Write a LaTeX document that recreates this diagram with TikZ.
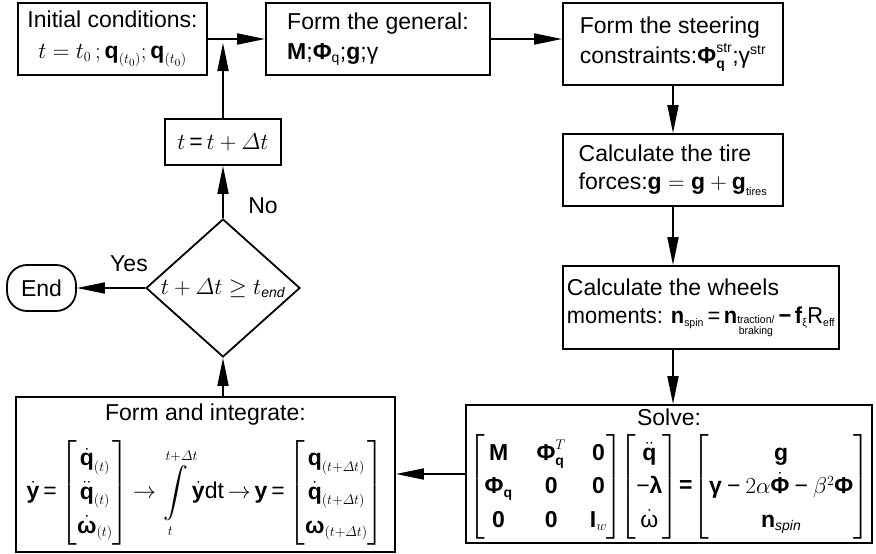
\RequirePackage{fix-cm}
\documentclass[tikz,border=0pt]{standalone}
\usepackage{amsmath}
\usepackage{fontspec}
\setmainfont{Liberation Sans}
\usetikzlibrary{arrows.meta,shapes.geometric}
\DeclareMathSizes{23}{23}{14}{11}
\newcommand\B[1]{\text{\bfseries #1}}
\newcommand\T[1]{\text{#1}}
\newcommand\Sm[1]{\text{\fontsize{11}{12}\selectfont #1}}
\newcommand\Mi{\mathbin{\T{−}}}
\begin{document}
\begin{tikzpicture}[x=1pt,y=-1pt,
  every node/.append style={font=\fontsize{23}{28}\selectfont, inner sep=2pt},
  box/.style={draw, line width=1.8pt, align=left},
  conn/.style={line width=1.8pt, -{Triangle[length=28pt,width=11pt]}}]
\useasboundingbox (0,0) rectangle (876,554);

\node[box, align=center, minimum width=189pt, minimum height=72pt] (init) at (112.5,39)
  {Initial conditions:\\[3pt] $t=t_0\,;\B{q}_{(t_0)};\B{q}_{(t_0)}$};
\node[box, minimum width=224pt, minimum height=72pt] (gen) at (378,39)
  {Form the general:\\[2pt] $\B{M}\T{;}\B{Φ}_{\T{q}}\T{;}\B{g}\T{;}\T{γ}$};
\node[box, minimum width=220pt, minimum height=82pt] (steer) at (673,44)
  {Form the steering\\[2pt] constraints:$\B{Φ}_{\B{q}}^{\T{str}}\T{;}\T{γ}^{\T{str}}$};
\node[box, minimum width=220pt, minimum height=72pt] (tire) at (673,170)
  {Calculate the tire\\ forces:$\B{g}=\B{g}+\B{g}_{\Sm{tires}}$};
\node[box, minimum width=276pt, minimum height=83pt] (wheel) at (701,307.5)
  {Calculate the wheels\\ \scalebox{0.95}[1]{moments: $\B{n}_{\Sm{spin}}\,\T{=}\,\B{n}_{\substack{\Sm{traction/}\\ \Sm{braking}}}\,\B{−}\,\B{f}_{\Sm{ξ}}\T{R}_{\Sm{eff}}$}};

\node[box, align=center, minimum width=404pt, minimum height=138pt] (solve) at (669,474)
  {Solve:\\[8pt]
   $\renewcommand\arraystretch{1.2}\setlength\arraycolsep{12pt}%
   \begin{bmatrix} \B{M} & \B{Φ}_{\B{q}}^{T} & \B{0}\\ \B{Φ}_{\B{q}} & \B{0} & \B{0}\\ \B{0} & \B{0} & \B{I}_{w}\end{bmatrix}%
   \mkern-6mu\setlength\arraycolsep{3pt}%
   \begin{bmatrix}\ddot{\B{q}}\\ \T{−}\B{λ}\\ \dot{\T{ω}}\end{bmatrix}
   \mkern-3mu\B{=}\mkern-3mu
   \begin{bmatrix}\B{g}\\ \B{γ}\Mi 2\alpha\dot{\B{Φ}}\Mi\beta^2\B{Φ}\\ \B{n}_{\text{\itshape spin}}\end{bmatrix}$};

\node[box, align=center, minimum width=379pt, minimum height=155pt] (integ) at (205.5,474.5)
  {Form and integrate:\\[14pt]
   $\displaystyle\renewcommand\arraystretch{1.2}%
   \dot{\B{y}}\,\T{=}\begin{bmatrix}\dot{\B{q}}_{(t)}\\ \ddot{\B{q}}_{(t)}\\ \dot{\B{ω}}_{(t)}\end{bmatrix}
   \mathord{\rightarrow} \int\limits_{t}^{t+\varDelta t}\!\dot{\B{y}}\T{dt}\,\mathord{\rightarrow}\,\B{y}\,\T{=}
   \begin{bmatrix}\B{q}_{(t+\varDelta t)}\\ \dot{\B{q}}_{(t+\varDelta t)}\\ \B{ω}_{(t+\varDelta t)}\end{bmatrix}$};

\node[draw, diamond, line width=1.8pt, aspect=1.1, inner sep=0pt,
      minimum width=154pt, minimum height=138pt] (dia) at (223,288)
  {$t+\varDelta t\geq t_{\mathit{end}}$};
\node[box, align=center, minimum width=116pt, minimum height=46pt] (tbox) at (223,142)
  {$t\,\T{=}\,t+\varDelta t$};
\node[draw, line width=1.8pt, rounded corners=20pt, minimum width=69pt, minimum height=46pt] (endn) at (41.5,288) {End};
\coordinate (join) at (223,43);

\node (yes) at (129,264) {Yes};
\node (no) at (263,206) {No};

\draw[conn] (init.east) -- (gen.west);
\draw[conn] (gen.east) -- (gen.east -| steer.west);
\draw[conn] (steer.south) -- (tire.north);
\draw[conn] (tire.south) -- (tire.south |- wheel.north);
\draw[conn] (tire.south |- wheel.south) -- (tire.south |- solve.north);
\draw[conn] (solve.west) -- (solve.west -| integ.east);
\draw[conn] (dia.south |- integ.north) -- (dia.south);
\draw[conn] (dia.north) -- (tbox.south);
\draw[conn] (tbox.north) -- (join);
\draw[conn] (dia.west) -- (endn.east);
\end{tikzpicture}
\end{document}
